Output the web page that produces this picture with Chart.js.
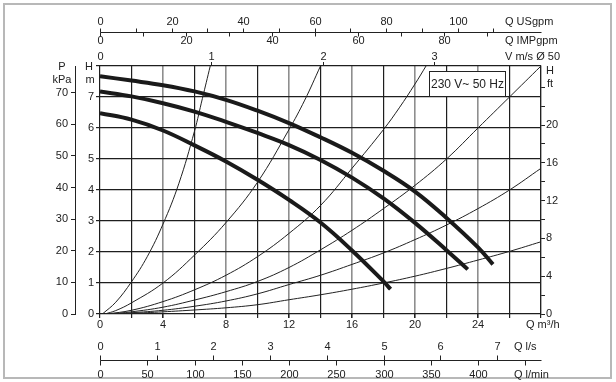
<!DOCTYPE html>
<html lang="en">

<head>
    <meta charset="UTF-8">
    <title>Pump curve</title>
    <script src="https://cdn.jsdelivr.net/npm/chart.js@4.4.1/dist/chart.umd.min.js"></script>
    <style>
        html,
        body {
            margin: 0;
            padding: 0;
            background: #fff;
        }

        #chart {
            display: block;
        }
    </style>
</head>

<body>
    <canvas id="chart" width="616" height="382"></canvas>
    <script>
        // pump curves, Q in m3/h, H in m (speed 3 is the top one)
        const speed3Q = [0, 2, 4, 6, 8, 10, 12, 14, 16, 18, 20, 22, 24, 24.95];
        const speed3H = [7.67, 7.53, 7.38, 7.18, 6.91, 6.56, 6.16, 5.7, 5.2, 4.62, 3.95, 3.1, 2.15, 1.6];
        const speed2Q = [0, 2, 4, 6, 8, 10, 12, 14, 16, 18, 20, 22, 23.35];
        const speed2H = [7.18, 7.02, 6.8, 6.53, 6.2, 5.84, 5.45, 4.97, 4.4, 3.73, 2.94, 2.06, 1.44];
        const speed1Q = [0, 2, 4, 6, 8, 10, 12, 14, 16, 18, 18.45];
        const speed1H = [6.48, 6.27, 5.92, 5.44, 4.92, 4.33, 3.68, 2.95, 2.05, 1.05, 0.8];

        // thin system curves
        const sys1Q = [0.15, 1, 2, 3, 4, 5, 6, 6.5, 7.0];
        const sys1H = [0, 0.38, 1.04, 1.85, 2.9, 4.2, 5.9, 6.95, 8.0];
        const sys2Q = [0.3, 1, 2, 4, 6, 8, 10, 12, 13, 14];
        const sys2H = [0, 0.11, 0.36, 1.0, 1.9, 2.95, 4.25, 5.95, 6.9, 8.0];
        const sys3Q = [0.45, 2, 4, 6, 8, 10, 12, 14, 16, 18, 19, 20, 20.7];
        const sys3H = [0, 0.12, 0.4, 0.78, 1.25, 1.85, 2.6, 3.5, 4.7, 5.95, 6.65, 7.42, 8.0];
        const sys4Q = [0.6, 2, 4, 6, 8, 10, 12, 14, 16, 18, 20, 22, 24, 26, 28];
        const sys4H = [0, 0.07, 0.22, 0.45, 0.72, 1.05, 1.5, 2.07, 2.7, 3.4, 4.15, 5.0, 6.0, 7.0, 8.0];
        const sys5Q = [0.75, 2, 4, 6, 8, 10, 12, 14, 16, 18, 20, 22, 24, 26, 28];
        const sys5H = [0, 0.04, 0.12, 0.25, 0.42, 0.65, 0.95, 1.25, 1.6, 1.97, 2.4, 2.87, 3.4, 4.0, 4.7];
        const sys6Q = [0.9, 2, 4, 6, 8, 10, 12, 14, 16, 18, 20, 22, 24, 26, 28];
        const sys6H = [0, 0.02, 0.07, 0.13, 0.2, 0.3, 0.46, 0.62, 0.8, 1.0, 1.22, 1.47, 1.74, 2.02, 2.33];

        // tick labels
        const qLabels = [0, 4, 8, 12, 16, 20, 24];
        const hLabels = [0, 1, 2, 3, 4, 5, 6, 7];
        const kpaLabels = [0, 10, 20, 30, 40, 50, 60, 70];
        const ftLabels = [0, 4, 8, 12, 16, 20];
        const usgpmLabels = [0, 20, 40, 60, 80, 100];
        const usgpmTicks = [0, 10, 20, 30, 40, 50, 60, 70, 80, 90, 100, 110];
        const impgpmLabels = [0, 20, 40, 60, 80];
        const impgpmTicks = [0, 10, 20, 30, 40, 50, 60, 70, 80, 90];
        const velLabels = [0, 1, 2, 3];
        const lsLabels = [0, 1, 2, 3, 4, 5, 6, 7];
        const lminLabels = [0, 50, 100, 150, 200, 250, 300, 350, 400];
        const lminTicks = [0, 50, 100, 150, 200, 250, 300, 350, 400, 450];

        // unit conversions (per m3/h, per m)
        const US_PER_M3H = 4.40287;
        const IMP_PER_M3H = 3.66615;
        const MS_PER_M3H = 1 / 7.06858; // DN 50
        const LS_PER_M3H = 1 / 3.6;
        const LMIN_PER_M3H = 1 / 0.06;
        const KPA_PER_M = 9.80665;
        const FT_PER_M = 1 / 0.3048;

        const Q_MAX = 28;
        const H_MAX = 8;

        const FONT = '"Liberation Sans", Arial, Helvetica, sans-serif';
        const INK = '#222';

        function pts(qs, hs) {
            return qs.map((q, i) => ({ x: q, y: hs[i] }));
        }

        function pump(qs, hs) {
            return {
                data: pts(qs, hs),
                borderColor: '#1a1a1a',
                borderWidth: 4,
                pointRadius: 0,
                tension: 0.4,
                fill: false
            };
        }

        function system(qs, hs) {
            return {
                data: pts(qs, hs),
                borderColor: INK,
                borderWidth: 1,
                pointRadius: 0,
                tension: 0.4,
                fill: false
            };
        }

        function seg(ctx, x1, y1, x2, y2) {
            ctx.beginPath();
            ctx.moveTo(x1, y1);
            ctx.lineTo(x2, y2);
            ctx.stroke();
        }

        // frame, voltage box and the extra flow / velocity scales
        const extras = {
            id: 'extras',
            beforeDraw(chart) {
                const ctx = chart.ctx;
                ctx.save();
                ctx.fillStyle = '#fff';
                ctx.fillRect(0, 0, chart.width, chart.height);
                ctx.strokeStyle = '#b8b8b8';
                ctx.lineWidth = 2;
                ctx.strokeRect(4, 4, 607, 374);
                ctx.restore();
            },
            afterDatasetsDraw(chart) {
                const ctx = chart.ctx;
                const a = chart.chartArea;
                const bx = a.left + 329.5, by = a.top + 5.5;
                ctx.save();
                ctx.fillStyle = '#fff';
                ctx.fillRect(bx, by, 76, 25);
                ctx.strokeStyle = INK;
                ctx.lineWidth = 1;
                ctx.strokeRect(bx, by, 76, 25);
                ctx.fillStyle = INK;
                ctx.font = '12px ' + FONT;
                ctx.textAlign = 'center';
                ctx.textBaseline = 'middle';
                ctx.fillText('230 V~ 50 Hz', bx + 38, by + 13);
                ctx.restore();
            },
            afterDraw(chart) {
                const ctx = chart.ctx;
                const a = chart.chartArea;
                const sx = chart.scales.x;
                const px = q => Math.round(sx.getPixelForValue(q)) + 0.5;

                ctx.save();
                ctx.strokeStyle = INK;
                ctx.fillStyle = INK;
                ctx.lineWidth = 1;
                ctx.font = '11px ' + FONT;
                ctx.textAlign = 'center';
                ctx.textBaseline = 'middle';

                // US / IMP gpm share one line above the chart
                const yG = a.top - 33.5;
                seg(ctx, px(0), yG, px(Q_MAX), yG);
                usgpmTicks.forEach(v => seg(ctx, px(v / US_PER_M3H), yG - 4, px(v / US_PER_M3H), yG));
                impgpmTicks.forEach(v => seg(ctx, px(v / IMP_PER_M3H), yG, px(v / IMP_PER_M3H), yG + 4));
                usgpmLabels.forEach(v => ctx.fillText(v, px(v / US_PER_M3H), a.top - 44));
                impgpmLabels.forEach(v => ctx.fillText(v, px(v / IMP_PER_M3H), a.top - 25));

                // velocity in DN 50
                velLabels.forEach(v => {
                    const x = px(v / MS_PER_M3H);
                    if (v > 0) seg(ctx, x, a.top - 4, x, a.top);
                    ctx.fillText(v, x, a.top - 9.5);
                });

                // l/s and l/min share one line below the chart
                const yL = a.bottom + 46.5;
                seg(ctx, px(0), yL, px(Q_MAX), yL);
                lsLabels.forEach(v => {
                    const x = px(v / LS_PER_M3H);
                    seg(ctx, x, yL - 5, x, yL);
                    ctx.fillText(v, x, a.bottom + 33);
                });
                lminTicks.forEach(v => seg(ctx, px(v / LMIN_PER_M3H), yL, px(v / LMIN_PER_M3H), yL + 5));
                lminLabels.forEach(v => ctx.fillText(v, px(v / LMIN_PER_M3H), a.bottom + 60.5));

                // axis titles
                ctx.fillText('P', a.left - 38, a.top + 1);
                ctx.fillText('kPa', a.left - 38, a.top + 14);
                ctx.fillText('H', a.left - 11, a.top + 0.5);
                ctx.fillText('m', a.left - 10, a.top + 14);
                ctx.fillText('H', a.right + 9, a.top + 5);
                ctx.fillText('ft', a.right + 9, a.top + 18);

                ctx.textAlign = 'left';
                ctx.fillText('Q USgpm', a.left + 405, a.top - 44);
                ctx.fillText('Q IMPgpm', a.left + 405, a.top - 25);
                ctx.fillText('V m/s \u00D8 50', a.left + 405, a.top - 9.5);
                ctx.fillText('Q m\u00B3/h', a.left + 426, a.bottom + 11);
                ctx.fillText('Q l/s', a.left + 414, a.bottom + 33);
                ctx.fillText('Q l/min', a.left + 414, a.bottom + 60.5);
                ctx.restore();
            }
        };

        Chart.defaults.font.family = FONT;
        Chart.defaults.font.size = 11;
        Chart.defaults.color = INK;

        new Chart(document.getElementById('chart'), {
            type: 'line',
            data: {
                datasets: [
                    pump(speed3Q, speed3H),
                    pump(speed2Q, speed2H),
                    pump(speed1Q, speed1H),
                    system(sys1Q, sys1H),
                    system(sys2Q, sys2H),
                    system(sys3Q, sys3H),
                    system(sys4Q, sys4H),
                    system(sys5Q, sys5H),
                    system(sys6Q, sys6H)
                ]
            },
            options: {
                responsive: false,
                animation: false,
                devicePixelRatio: 1,
                layout: { padding: { left: 45, right: 45, top: 66, bottom: 48 } },
                plugins: {
                    legend: { display: false },
                    tooltip: { enabled: false }
                },
                scales: {
                    x: {
                        type: 'linear',
                        position: 'bottom',
                        min: 0,
                        max: Q_MAX,
                        ticks: {
                            stepSize: 2,
                            autoSkip: false,
                            maxRotation: 0,
                            padding: 0,
                            callback: v => qLabels.includes(v) ? v : ''
                        },
                        grid: {
                            color: c => (c.tick.value % 4 === 0 && c.tick.value % Q_MAX !== 0) ? '#8e8e8e' : '#1e1e1e',
                            lineWidth: c => (c.tick.value % 4 === 0 && c.tick.value % Q_MAX !== 0) ? 1.6 : 1.2,
                            tickLength: 4,
                            tickColor: INK
                        },
                        border: { display: false },
                        afterFit: s => { s.height = 20; }
                    },
                    y: {
                        position: 'left',
                        min: 0,
                        max: H_MAX,
                        ticks: {
                            stepSize: 1,
                            padding: 2,
                            callback: v => hLabels.includes(v) ? v : ''
                        },
                        grid: { color: '#1e1e1e', lineWidth: 1.2, tickLength: 4, tickColor: INK },
                        border: { display: false },
                        afterFit: s => { s.width = 25; }
                    },
                    yP: {
                        position: 'left',
                        weight: 1,
                        min: 0,
                        max: H_MAX * KPA_PER_M,
                        ticks: {
                            stepSize: 10,
                            includeBounds: false,
                            padding: 3,
                            callback: v => kpaLabels.includes(v) ? v : ''
                        },
                        grid: { drawOnChartArea: false, tickLength: 4, color: INK },
                        border: { display: true, color: INK, width: 1 },
                        afterFit: s => { s.width = 30; }
                    },
                    yF: {
                        position: 'right',
                        min: 0,
                        max: H_MAX * FT_PER_M,
                        ticks: {
                            stepSize: 2,
                            includeBounds: false,
                            padding: 1,
                            callback: v => ftLabels.includes(v) ? v : ''
                        },
                        afterBuildTicks: s => { s.ticks = s.ticks.filter(t => t.value <= 24); },
                        grid: { drawOnChartArea: false, tickLength: 4, color: INK },
                        border: { display: true, color: INK, width: 1.2 },
                        afterFit: s => { s.width = 30; }
                    }
                }
            },
            plugins: [extras]
        });
    </script>
</body>

</html>
